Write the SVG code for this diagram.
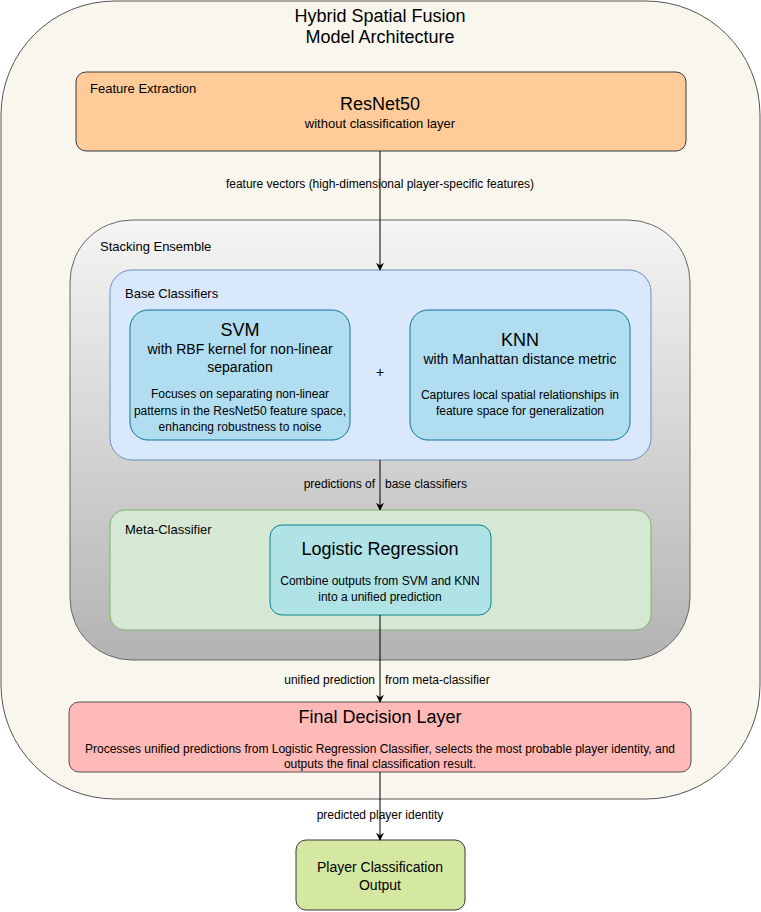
<svg xmlns="http://www.w3.org/2000/svg" width="761" height="912" viewBox="0 0 761 912">
<style>
text{font-family:"Liberation Sans",Arial,sans-serif;fill:#000;}
.c{text-anchor:middle;}
.s12{font-size:12px;}
.s13{font-size:13px;}
.s14{font-size:14px;}
.s18{font-size:18px;}
.edge{stroke:#000;stroke-width:1;fill:none;marker-end:url(#arr);}
</style>
<defs>
<marker id="arr" viewBox="0 0 10 10" refX="9" refY="5" markerWidth="8" markerHeight="8" markerUnits="userSpaceOnUse" orient="auto">
<path d="M0,0 L10,5 L0,10 L3,5 Z" fill="#000"/>
</marker>
<linearGradient id="gStack" x1="0" y1="0" x2="0" y2="1">
<stop offset="0" stop-color="#f5f5f5"/>
<stop offset="1" stop-color="#b3b3b3"/>
</linearGradient>
</defs>

<g id="outer">
<rect x="1" y="1" width="759" height="798" rx="114" ry="114" fill="#f9f7ed" stroke="#555" stroke-width="1"/>
<text class="c s18" x="380" y="22">Hybrid Spatial Fusion</text>
<text class="c s18" x="380" y="43">Model Architecture</text>
</g>

<g id="feature-extraction">
<rect x="76" y="72" width="610" height="79" rx="10" ry="10" fill="#ffcc99" stroke="#36393d"/>
<text class="s13" x="90" y="93">Feature Extraction</text>
<text class="c s18" x="380" y="110">ResNet50</text>
<text class="c s13" x="380" y="128">without classification layer</text>
</g>

<g id="stacking-ensemble">
<rect x="70" y="220" width="620" height="440" rx="62" ry="62" fill="url(#gStack)" stroke="#666"/>
<text class="s13" x="100" y="251">Stacking Ensemble</text>
</g>

<g id="base-classifiers">
<rect x="110" y="270" width="541" height="190" rx="22" ry="22" fill="#dae8fc" stroke="#6c8ebf"/>
<text class="s13" x="125" y="298">Base Classifiers</text>
</g>

<g id="svm">
<rect x="130" y="310" width="220" height="130" rx="18" ry="18" fill="#b1ddf0" stroke="#10739e"/>
<text class="c s18" x="240" y="336">SVM</text>
<text class="c s14" x="240" y="354">with RBF kernel for non-linear</text>
<text class="c s14" x="240" y="372">separation</text>
<text class="c s12" x="240" y="398">Focuses on separating non-linear</text>
<text class="c s12" x="240" y="415">patterns in the ResNet50 feature space,</text>
<text class="c s12" x="240" y="431">enhancing robustness to noise</text>
</g>

<g id="plus">
<text class="c s14" x="380" y="377">+</text>
</g>

<g id="knn">
<rect x="410" y="310" width="220" height="130" rx="18" ry="18" fill="#b1ddf0" stroke="#10739e"/>
<text class="c s18" x="520" y="346">KNN</text>
<text class="c s14" x="520" y="364">with Manhattan distance metric</text>
<text class="c s12" x="520" y="399">Captures local spatial relationships in</text>
<text class="c s12" x="520" y="415">feature space for generalization</text>
</g>

<g id="meta-classifier">
<rect x="110" y="510" width="541" height="120" rx="15" ry="15" fill="#d5e8d4" stroke="#82b366"/>
<text class="s13" x="125" y="534">Meta-Classifier</text>
</g>

<g id="logistic-regression">
<rect x="270" y="525" width="221" height="90" rx="12" ry="12" fill="#b0e3e6" stroke="#0e8088"/>
<text class="c s18" x="380" y="555">Logistic Regression</text>
<text class="c s12" x="380" y="585">Combine outputs from SVM and KNN</text>
<text class="c s12" x="380" y="601">into a unified prediction</text>
</g>

<g id="final-decision">
<rect x="69" y="702" width="622" height="70" rx="10" ry="10" fill="#ffb9b6" stroke="#555"/>
<text class="c s18" x="380" y="723">Final Decision Layer</text>
<text class="c s12" x="380" y="753">Processes unified predictions from Logistic Regression Classifier, selects the most probable player identity, and</text>
<text class="c s12" x="380" y="768">outputs the final classification result.</text>
</g>

<g id="output">
<rect x="296" y="840" width="169" height="70" rx="10" ry="10" fill="#d5e8a1" stroke="#36393d"/>
<text class="c s14" x="380" y="872">Player Classification</text>
<text class="c s14" x="380" y="890">Output</text>
</g>

<g id="connectors">
<line class="edge" x1="380" y1="151" x2="380" y2="270"/>
<text class="c s12" x="380" y="188">feature vectors (high-dimensional player-specific features)</text>
<line class="edge" x1="380" y1="460" x2="380" y2="510"/>
<text class="s12" x="375" y="488" text-anchor="end">predictions of</text>
<text class="s12" x="385" y="488">base classifiers</text>
<line class="edge" x1="380" y1="615" x2="380" y2="702"/>
<text class="s12" x="375" y="684" text-anchor="end">unified prediction</text>
<text class="s12" x="385" y="684">from meta-classifier</text>
<line class="edge" x1="380" y1="772" x2="380" y2="840"/>
<text class="c s12" x="380" y="819">predicted player identity</text>
</g>
</svg>
